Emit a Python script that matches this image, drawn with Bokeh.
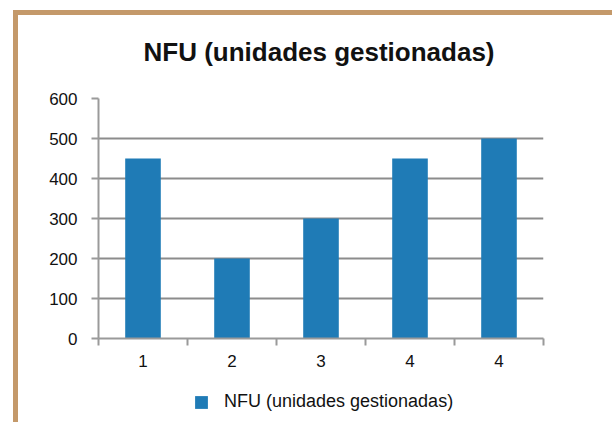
from bokeh.plotting import figure
from bokeh.layouts import column
from bokeh.models import Range1d, FixedTicker, Legend, LegendItem, ColumnDataSource, Label
from bokeh.embed import file_html
from bokeh.resources import INLINE

# ---- data ----
title_text = "NFU (unidades gestionadas)"
series_name = "NFU (unidades gestionadas)"
categories = ["1", "2", "3", "4", "4"]
values = [450, 200, 300, 450, 500]
y_ticks = [0, 100, 200, 300, 400, 500, 600]

positions = list(range(1, len(categories) + 1))
source = ColumnDataSource(dict(x=positions, top=values))

BAR = "#1F7BB6"
GRID = "#8C8C8C"
AXIS = "#9A9A9A"
TAN = "#C4996A"
FONT = "Liberation Sans"

# ---- title strip ----
ts = figure(width=594, height=60, min_border=0,
            x_range=Range1d(0, 1), y_range=Range1d(0, 1),
            output_backend="svg", toolbar_location=None)
ts.axis.visible = False
ts.grid.visible = False
ts.outline_line_color = None
ts.border_fill_color = "white"
ts.add_layout(Label(x=0.5, y=24, y_units="screen", x_offset=-2,
                    text=title_text, text_align="center",
                    text_baseline="alphabetic", text_font=FONT,
                    text_font_size="26px", text_font_style="bold",
                    text_color="#111111"))

# ---- main chart ----
p = figure(
    frame_width=445, frame_height=240,
    min_border_left=80, min_border_right=69,
    min_border_top=23, min_border_bottom=50,
    x_range=Range1d(0.5, len(categories) + 0.5),
    y_range=Range1d(y_ticks[0], y_ticks[-1]),
    output_backend="svg", toolbar_location=None,
)
p.outline_line_color = None
p.background_fill_color = "white"
p.border_fill_color = "white"

r = p.vbar(x="x", top="top", width=0.4, source=source,
           fill_color=BAR, line_color=None)

# y axis
p.yaxis.ticker = FixedTicker(ticks=y_ticks)
p.yaxis.axis_line_color = AXIS
p.yaxis.axis_line_width = 2
p.yaxis.major_tick_line_color = AXIS
p.yaxis.major_tick_line_width = 2
p.yaxis.major_tick_out = 7
p.yaxis.major_tick_in = 0
p.yaxis.minor_tick_line_color = None
p.yaxis.major_label_standoff = 14
p.yaxis.major_label_text_font = FONT
p.yaxis.major_label_text_font_size = "17px"
p.yaxis.major_label_text_color = "#111111"

# x axis
minor = [x - 0.5 for x in positions] + [positions[-1] + 0.5]
p.xaxis.ticker = FixedTicker(ticks=positions, minor_ticks=minor)
p.xaxis.major_label_overrides = {x: c for x, c in zip(positions, categories)}
p.xaxis.axis_line_color = AXIS
p.xaxis.axis_line_width = 2
p.xaxis.major_tick_line_color = None
p.xaxis.major_tick_out = 0
p.xaxis.major_tick_in = 0
p.xaxis.minor_tick_line_color = AXIS
p.xaxis.minor_tick_line_width = 2
p.xaxis.minor_tick_out = 7
p.xaxis.minor_tick_in = 0
p.xaxis.major_label_standoff = 9
p.xaxis.major_label_text_font = FONT
p.xaxis.major_label_text_font_size = "17px"
p.xaxis.major_label_text_color = "#111111"

p.xgrid.grid_line_color = None
p.ygrid.ticker = FixedTicker(ticks=y_ticks)
p.ygrid.grid_line_color = GRID
p.ygrid.grid_line_width = 2

# ---- legend strip ----
lg = figure(width=594, height=34, min_border=0,
            x_range=Range1d(0, 1), y_range=Range1d(0, 1),
            output_backend="svg", toolbar_location=None)
lg.axis.visible = False
lg.grid.visible = False
lg.outline_line_color = None
lg.border_fill_color = "white"
lr = lg.vbar(x="x", top="top", width=0.4, source=source,
             fill_color=BAR, line_color=None, visible=False)

legend = Legend(items=[LegendItem(label=series_name, renderers=[lr])],
                location=(95, 10))
legend.padding = 0
legend.margin = 0
legend.border_line_color = None
legend.background_fill_alpha = 0
legend.inactive_fill_alpha = 0
legend.glyph_width = 16
legend.glyph_height = 16
legend.label_height = 16
legend.label_standoff = 15
legend.label_text_font = FONT
legend.label_text_font_size = "18px"
legend.label_text_color = "#111111"
lg.add_layout(legend, "center")

layout = column(ts, p, lg, spacing=0)
layout.styles = {
    "margin-left": "13px", "margin-top": "10px",
    "border-left": f"5px solid {TAN}", "border-top": f"5px solid {TAN}",
}

open("out.html", "w").write(file_html(layout, INLINE))
